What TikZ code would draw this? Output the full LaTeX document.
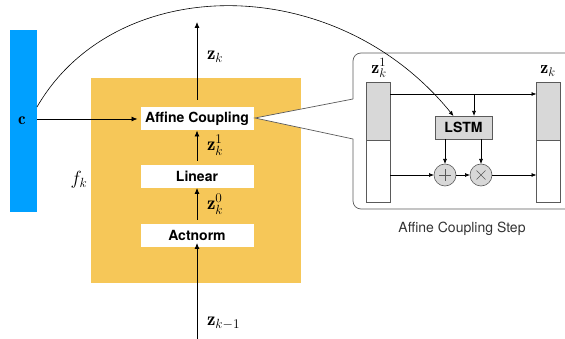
\documentclass[tikz,border=0pt]{standalone}
\usepackage{fontspec}
\usepackage{fix-cm}
\setsansfont{TeX Gyre Heros}
\usetikzlibrary{arrows.meta}
\definecolor{cblue}{RGB}{0,160,255}
\definecolor{corange}{RGB}{246,199,88}
\definecolor{cgray}{RGB}{216,216,216}
\definecolor{cframe}{RGB}{90,90,90}
\begin{document}
\begin{tikzpicture}[x=1pt,y=-1pt,
  every node/.style={inner sep=0pt,outer sep=0pt},
  wbox/.style={fill=white,minimum width=113pt,minimum height=23pt,font=\sffamily\bfseries\fontsize{14}{16}\selectfont},
  lbl/.style={font=\fontsize{19}{21}\selectfont,anchor=west},
  arr/.style={-{Latex[length=6pt,width=5pt]},line width=0.8pt},
  sarr/.style={-{Latex[length=5pt,width=4pt]},line width=0.7pt},
  bar/.style={draw=cframe,line width=0.6pt,minimum width=24pt},
  op/.style={circle,draw=cframe,fill=cgray,line width=0.6pt,minimum size=22pt}
]
\useasboundingbox (0,0) rectangle (565,339);
% blue bar
\node[fill=cblue,minimum width=27pt,minimum height=182pt] (cbar) at (23.5,121) {};
\node[font=\fontsize{17}{19}\selectfont] (c) at (22,121) {$\mathbf{c}$};
% orange box
\node[fill=corange,minimum width=210pt,minimum height=205pt] (fk) at (196,180.5) {};
\node[font=\fontsize{19}{21}\selectfont] (fklbl) at (79,180) {$f_k$};
% inner boxes
\node[wbox] (aff) at (197,119) {Affine Coupling};
\node[wbox] (lin) at (197,176.5) {Linear};
\node[wbox] (act) at (197,235.5) {Actnorm};
% coordinates
\coordinate (top) at (197,22);
\coordinate (bot) at (197,339);
\coordinate (aftop) at (197,100);
\coordinate (linout) at (197,161);
\coordinate (actout) at (197,220);
% arrows
\draw[arr] (aftop) -- (top);
\draw[arr] (linout) -- (aff.south);
\draw[arr] (actout) -- (lin.south);
\draw[arr] (bot) -- ([yshift=4pt]act.south);
\draw[arr] (cbar.east |- aff.west) -- ([xshift=-3pt]aff.west);
% labels
\node[lbl] (zk) at (207,57) {$\mathbf{z}_k$};
\node[lbl] (zk1) at (207,145) {$\mathbf{z}_k^1$};
\node[lbl] (zk0) at (207,204) {$\mathbf{z}_k^0$};
\node[lbl] (zkm) at (207,323) {$\mathbf{z}_{k-1}$};
% callout frame
\coordinate (tip) at (255,118);
\draw[cframe,line width=0.7pt,fill=white,rounded corners=8pt]
  (353,99) -- (353,53) -- (600,53) -- (600,209) -- (353,209) -- (353,139);
\fill[white] (353,99) -- (tip) -- (353,139) -- cycle;
\draw[cframe,line width=0.7pt] (353,99) -- (tip) -- (353,139);
% bars
\node[bar,fill=cgray,minimum height=58pt,anchor=north] (lt) at (378,82) {};
\node[bar,fill=white,minimum height=62pt,anchor=north] (lb) at (378,140) {};
\node[bar,fill=cgray,minimum height=58pt,anchor=north] (rt) at (548.5,82) {};
\node[bar,fill=white,minimum height=62pt,anchor=north] (rb) at (548.5,140) {};
\node[font=\fontsize{18}{20}\selectfont] (lz) at (379,68) {$\mathbf{z}_k^1$};
\node[font=\fontsize{18}{20}\selectfont] (rz) at (548,71) {$\mathbf{z}_k$};
% LSTM
\node[draw=cframe,fill=cgray,line width=0.6pt,minimum width=57pt,minimum height=23pt,font=\sffamily\bfseries\fontsize{14}{16}\selectfont] (lstm) at (463.5,127.5) {LSTM};
\node[op] (plus) at (445,175) {};
\node[op] (times) at (481,175) {};
\draw[cframe,line width=0.6pt] ([xshift=-6pt]plus.center) -- ([xshift=6pt]plus.center) ([yshift=-6pt]plus.center) -- ([yshift=6pt]plus.center);
\draw[cframe,line width=0.6pt] ([shift={(-4.5pt,-4.5pt)}]times.center) -- ([shift={(4.5pt,4.5pt)}]times.center) ([shift={(-4.5pt,4.5pt)}]times.center) -- ([shift={(4.5pt,-4.5pt)}]times.center);
% step arrows
\coordinate (tl) at (lt.east |- 0,94);
\coordinate (tj) at (474,94);
\draw[sarr] (tl) -- (rt.west |- tl);
\draw[sarr] (tj) -- (tj |- lstm.north);
\draw[sarr] (plus |- lstm.south) -- (plus.north);
\draw[sarr] (times |- lstm.south) -- (times.north);
\draw[sarr] (lb.east |- plus) -- (plus.west);
\draw[sarr] (plus.east) -- (times.west);
\draw[sarr] (times.east) -- (rb.west |- times);
% curve
\draw[-{Latex[length=5pt,width=4pt]},line width=0.6pt] (cbar.east |- 0,107) .. controls (115,-28) and (335,-30) .. ([xshift=-10pt]lstm.north);
% caption
\node[font=\sffamily\fontsize{14}{16}\selectfont,text=black!80] (cap) at (462,229) {Affine Coupling Step};
\end{tikzpicture}
\end{document}
